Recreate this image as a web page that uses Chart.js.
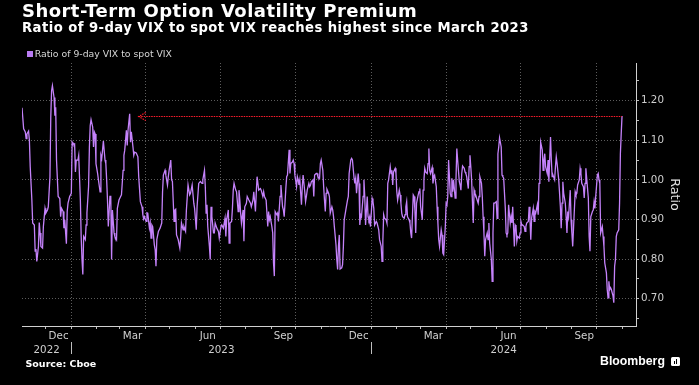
<!DOCTYPE html>
<html>
<head>
<meta charset="utf-8">
<script src="https://cdn.jsdelivr.net/npm/chart.js@4.4.1/dist/chart.umd.min.js"></script>
<style>
html,body{margin:0;padding:0;background:#000;}
#wrap{position:relative;width:699px;height:385px;background:#000;overflow:hidden;}
#c{position:absolute;left:0;top:0;}
.t{position:absolute;white-space:nowrap;color:#fff;}
#title{left:22px;top:2px;font:bold 18px/18px "DejaVu Sans";letter-spacing:0.45px;}
#sub{left:22px;top:21px;font:bold 13.2px/13.2px "DejaVu Sans";letter-spacing:0.44px;}
#legsq{position:absolute;left:27.3px;top:51.3px;width:5.5px;height:5.5px;background:#b97cf2;}
#legtx{left:34.7px;top:49.1px;font:9.3px/9.3px "DejaVu Sans";color:#d6d6d6;}
#src{left:25.5px;top:358.7px;font:bold 9.5px/9.5px "DejaVu Sans";}
#bbg{left:600px;top:354.6px;font:bold 12.3px/12.3px "Liberation Sans";}
#icon{position:absolute;left:671px;top:357px;width:9px;height:9px;background:#fff;border-radius:1.5px;}
#icon b{position:absolute;bottom:2px;width:1.4px;background:#000;}
</style>
</head>
<body>
<div id="wrap">
  <canvas id="c" width="699" height="385"></canvas>
  <div class="t" id="title">Short-Term Option Volatility Premium</div>
  <div class="t" id="sub">Ratio of 9-day VIX to spot VIX reaches highest since March 2023</div>
  <div id="legsq"></div>
  <div class="t" id="legtx">Ratio of 9-day VIX to spot VIX</div>
  <div class="t" id="src">Source: Cboe</div>
  <div class="t" id="bbg">Bloomberg</div>
  <div id="icon"><b style="left:2.5px;height:3px"></b><b style="left:4.6px;height:5px"></b></div>
</div>
<script>
// ---- data (x = days since 2023-01-01) ----
const seriesName = 'Ratio of 9-day VIX to spot VIX';
const days = [
-60,-58,-56,-55,-54,-52,-51,-50,-48,-47,-45,-44,-43,-42,-40,-39,-38,-37,-35,-34,-32,-31,-29,-28,-26,-25,-24,-23,-21,-20,-19,-18,-16,-14,-13,-12,-10,-9,-8,-6,-5,-4,-2,0,
1,2,4,5,6,8,9,11,12,13,14,15,17,18,19,21,22,23,24,26,27,28,29,30,32,33,35,36,37,38,39,41,42,43,44,45,47,48,49,50,52,53,55,56,58,60,61,63,64,65,67,68,69,71,72,73,75,76,77,79,81,82,84,86,87,88,89,91,92,93,95,96,97,98,99,101,102,103,104,106,107,108,110,111,112,114,115,117,118,119,121,
122,123,125,126,127,128,130,132,133,134,136,137,139,140,142,144,145,147,149,150,152,153,155,157,159,160,162,163,164,165,166,168,169,170,171,173,174,175,177,179,180,182,183,185,187,188,189,191,192,193,195,196,197,198,200,201,203,204,205,206,207,209,210,211,213,214,216,218,219,221,222,224,225,226,228,230,231,233,234,235,237,239,240,241,242,244,245,246,247,248,250,251,252,254,255,257,258,259,261,262,263,265,266,267,269,270,271,272,274,275,276,277,278,280,281,282,284,285,286,287,289,290,291,292,294,295,296,298,299,300,302,303,304,306,307,308,309,
310,311,313,314,315,317,318,319,320,322,323,324,325,326,327,329,330,331,332,334,336,337,338,340,341,342,344,345,346,347,349,350,351,352,353,355,356,357,358,360,361,362,363,364,366,367,368,369,371,372,373,374,375,377,378,379,380,381,383,384,385,386,388,389,390,391,392,394,395,396,397,399,400,401,402,403,405,406,407,408,409,411,412,413,414,416,417,418,419,420,422,423,424,425,427,428,429,430,431,433,434,435,436,437,439,440,441,442,444,445,446,447,448,450,451,452,453,455,456,457,458,459,461,462,463,464,465,467,468,469,470,472,473,474,475,476,478,479,480,481,483,484,485,486,487,489,490,491,492,493,495,496,497,
499,500,501,502,503,504,506,507,508,509,511,512,513,514,515,517,518,519,520,521,523,524,525,526,528,529,530,531,532,534,535,536,537,539,540,541,542,543,545,546,547,548,549,551,552,553,554,556,557,558,559,560,562,563,564,565,567,568,569,570,571,573,574,575,576,577,579,580,581,583,584,585,586,588,589,590,591,593,594,595,596,597,598,599,601,602,603,604,605,607,608,609,610,612,613,614,615,616,618,619,620,621,623,624,625,626,627,629,630,631,632,634,635,636,637,638,640,641,642,643,644,646,647,648,649,651,652,653,654,655,656,657,659,660,661,662,663,664,666,667,668,669,670
];
const ratio = [
1.182,1.129,1.121,1.104,1.116,1.123,1.100,1.033,0.949,0.891,0.886,0.820,0.825,0.794,0.832,0.892,0.866,0.832,0.828,0.882,0.928,0.916,0.924,0.932,1.008,1.158,1.225,1.238,1.208,1.162,1.183,1.050,0.958,0.953,0.907,0.928,0.920,0.878,0.899,0.839,0.920,0.941,0.958,0.966,
1.095,1.090,1.091,1.020,1.050,1.050,1.062,0.949,0.857,0.799,0.761,0.857,0.849,0.886,0.916,0.983,1.083,1.137,1.152,1.133,1.083,1.121,1.116,1.041,1.016,1.000,0.970,1.062,1.054,1.075,1.098,1.050,1.041,1.000,0.949,0.882,0.958,0.958,0.799,0.924,0.866,0.857,0.849,0.928,0.949,0.958,0.962,1.024,1.062,1.075,1.125,1.087,1.125,1.167,1.095,1.121,1.083,1.062,1.070,1.068,1.058,1.008,0.945,0.932,0.912,0.901,0.907,0.895,0.917,0.916,0.878,0.891,0.853,0.886,0.882,0.836,0.824,0.782,0.849,0.870,0.874,0.878,0.891,0.970,1.012,1.024,1.012,0.987,1.008,1.024,1.050,
1.000,0.996,0.895,0.924,0.926,0.861,0.849,0.828,0.853,0.891,0.874,0.882,0.870,0.924,0.987,0.962,0.966,0.987,0.941,0.928,0.874,0.932,0.991,0.996,0.991,1.000,1.024,0.983,0.916,0.937,0.882,0.832,0.799,0.932,0.907,0.866,0.866,0.891,0.878,0.870,0.853,0.882,0.886,0.878,0.903,0.857,0.899,0.924,0.840,0.891,0.895,0.928,0.974,0.991,0.974,0.970,0.920,0.974,0.949,0.916,0.891,0.924,0.845,0.932,0.941,0.958,0.949,0.941,0.932,0.949,0.970,0.920,0.966,1.008,0.974,0.978,0.974,0.958,0.970,0.958,0.949,0.882,0.920,0.899,0.907,0.882,0.866,0.790,0.757,0.920,0.912,0.916,0.895,0.958,0.987,0.932,0.924,0.907,0.978,1.008,1.012,1.076,1.016,1.041,1.045,1.050,1.041,1.012,0.983,1.008,1.000,0.987,1.000,0.937,0.983,1.012,0.970,0.945,0.958,0.974,0.991,0.983,0.987,0.995,1.000,0.958,1.012,1.016,1.016,1.008,1.004,1.041,1.050,1.024,0.983,0.949,0.920,
0.966,0.976,0.966,0.958,0.916,0.932,0.924,0.907,0.882,0.836,0.799,0.774,0.832,0.861,0.775,0.778,0.786,0.832,0.899,0.924,0.949,0.958,1.016,1.050,1.054,1.050,1.004,0.991,1.004,0.966,1.016,0.991,0.886,0.912,0.907,0.958,1.000,0.958,0.886,0.958,0.907,0.899,0.907,0.882,0.953,0.945,0.928,0.886,0.895,0.891,0.891,0.874,0.849,0.832,0.794,0.845,0.912,0.903,0.899,0.891,0.991,1.000,1.033,1.016,1.024,0.987,1.020,1.029,1.016,0.970,0.949,0.974,0.962,0.941,0.916,0.907,0.903,0.912,0.932,0.945,0.907,0.899,0.891,0.866,0.853,0.962,0.958,0.924,0.866,0.941,0.962,0.970,0.978,0.932,0.899,0.974,1.000,1.029,1.020,1.016,1.041,1.079,1.024,1.016,1.031,0.991,1.008,1.012,0.983,0.932,0.891,0.849,0.832,0.874,0.861,0.815,0.811,0.882,0.941,0.937,0.958,1.050,0.966,0.958,1.004,0.970,1.000,0.954,1.000,1.079,1.050,0.996,0.987,0.974,1.016,1.035,1.029,1.020,1.016,1.008,0.978,1.033,1.062,1.033,1.000,0.891,0.974,0.966,0.962,0.954,0.941,0.958,1.008,
0.991,0.958,0.907,0.866,0.807,0.849,0.866,0.849,0.891,0.840,0.799,0.744,0.866,0.941,0.941,0.945,0.903,1.066,1.083,1.106,1.083,1.012,1.008,1.004,0.928,0.866,0.861,0.866,0.937,0.891,0.907,0.891,0.932,0.832,0.886,0.882,0.845,0.857,0.853,0.866,0.895,0.886,0.886,0.882,0.870,0.882,0.891,0.895,0.932,0.899,0.849,0.903,0.928,0.895,0.920,0.916,0.937,0.912,0.991,0.996,1.095,1.075,1.024,1.050,1.066,1.033,1.016,1.050,0.995,1.108,1.050,1.008,1.012,1.000,1.033,1.058,1.041,1.000,0.966,0.932,0.878,0.941,0.995,0.966,0.941,0.907,0.866,0.920,0.907,0.974,0.899,0.866,0.832,0.924,0.970,0.962,0.966,0.987,1.000,1.029,1.016,0.991,0.983,0.954,0.991,1.029,1.004,0.954,0.857,0.820,0.907,0.920,0.924,0.945,0.928,0.958,1.012,1.016,1.000,0.991,0.866,0.882,0.857,0.832,0.790,0.765,0.723,0.702,0.744,0.723,0.728,0.723,0.707,0.690,0.782,0.799,0.857,0.866,0.874,0.941,1.066,1.116,1.161
];

// axis range, ticks and labels
const axisStart = '2022-11-02';
const axisEnd = '2024-11-18';
const monthStarts = ['2022-12-01','2023-01-01','2023-02-01','2023-03-01','2023-04-01','2023-05-01','2023-06-01','2023-07-01','2023-08-01','2023-09-01','2023-10-01','2023-11-01','2023-12-01','2024-01-01','2024-02-01','2024-03-01','2024-04-01','2024-05-01','2024-06-01','2024-07-01','2024-08-01','2024-09-01','2024-10-01','2024-11-01'];
const gridMonths = ['01','04','07','10'];
const monthLabelStarts = ['2022-12-01','2023-03-01','2023-06-01','2023-09-01','2023-12-01','2024-03-01','2024-06-01','2024-09-01'];
const monthLabels = ['Dec','Mar','Jun','Sep','Dec','Mar','Jun','Sep'];
const yearLabels = ['2022','2023','2024'];
const yMin = 0.631, yMax = 1.295;
const yTickValues = [0.65,0.70,0.75,0.80,0.85,0.90,0.95,1.00,1.05,1.10,1.15,1.20,1.25];
const yLabelValues = [0.70,0.80,0.90,1.00,1.10,1.20];
const yTitle = 'Ratio';
const refFromDate = '2023-03-24';
// ------------------------------------------

const DAY0 = Date.UTC(2023,0,1);
const toDay = s => Math.round((Date.parse(s + 'T00:00:00Z') - DAY0) / 86400000);
const xMin = toDay(axisStart), xMax = toDay(axisEnd);
const nextMonth = s => { const [y,m] = s.split('-').map(Number); return m === 12 ? `${y+1}-01-01` : `${y}-${String(m+1).padStart(2,'0')}-01`; };

const xTicks = [];
monthStarts.forEach(s => xTicks.push({value: toDay(s), kind: 'start', quarter: gridMonths.includes(s.slice(5,7)), text: ''}));
monthLabelStarts.forEach((s,i) => xTicks.push({value: (toDay(s) + toDay(nextMonth(s))) / 2, kind: 'label', text: monthLabels[i]}));
xTicks.sort((a,b) => a.value - b.value);

const yearTicks = [];
yearLabels.forEach((y,i) => {
  const a = Math.max(xMin, toDay(`${y}-01-01`));
  const b = Math.min(xMax, toDay(`${Number(y)+1}-01-01`));
  yearTicks.push({value: (a+b)/2, sep: false, text: y});
  if (i > 0) yearTicks.push({value: toDay(`${y}-01-01`), sep: true, text: ''});
});
yearTicks.sort((a,b) => a.value - b.value);

const isLabelY = v => yLabelValues.some(l => Math.abs(l - v) < 1e-6);
const refLevel = ratio[ratio.length - 1];
const refFrom = toDay(refFromDate);
const refTo = days[days.length - 1];

const axisFont = {family: 'DejaVu Sans', size: 10.3};
const labelColor = '#cfcfcf';
const gridColor = '#5c5c5c';
const axisColor = '#d0d0d0';

const refPlugin = {
  id: 'refLine',
  afterDatasetsDraw(chart) {
    const {ctx, scales: {x, y}} = chart;
    const yy = Math.round(y.getPixelForValue(refLevel)) + 0.5;
    const x0 = x.getPixelForValue(refFrom), x1 = x.getPixelForValue(refTo);
    ctx.save();
    ctx.strokeStyle = '#ff1e2d';
    ctx.lineWidth = 1.2;
    ctx.setLineDash([1.5,1]);
    ctx.beginPath(); ctx.moveTo(x0, yy); ctx.lineTo(x1, yy); ctx.stroke();
    ctx.beginPath(); ctx.moveTo(x0 + 7, yy - 4); ctx.lineTo(x0, yy); ctx.lineTo(x0 + 7, yy + 4); ctx.stroke();
    ctx.restore();
  }
};

new Chart(document.getElementById('c'), {
  type: 'line',
  data: {
    datasets: [{
      label: seriesName,
      data: days.map((d,i) => ({x: d, y: ratio[i]})),
      xAxisID: 'x', yAxisID: 'y',
      borderColor: '#c482fa',
      borderWidth: 1.3,
      pointRadius: 0,
      tension: 0,
      fill: false
    }]
  },
  options: {
    responsive: false,
    animation: false,
    devicePixelRatio: 1,
    layout: {padding: {left: 22, top: 63, right: 0, bottom: 0}},
    plugins: {legend: {display: false}, tooltip: {enabled: false}},
    scales: {
      x: {
        type: 'linear', position: 'bottom', min: xMin, max: xMax,
        afterBuildTicks: s => { s.ticks = xTicks.map(t => ({...t})); },
        afterFit: s => { s.height = 16; },
        ticks: {autoSkip: false, maxRotation: 0, minRotation: 0, padding: 1, color: labelColor, font: axisFont,
                callback: (v, i, ts) => (ts[i] && ts[i].text) || ''},
        grid: {color: c => (c.tick && c.tick.quarter) ? gridColor : 'transparent', lineWidth: 1, tickLength: 3,
               tickColor: c => (c.tick && c.tick.kind === 'start') ? '#bdbdbd' : 'transparent'},
        border: {display: true, color: axisColor, width: 1, dash: [1,2]}
      },
      x3: {
        type: 'linear', position: 'bottom', min: xMin, max: xMax,
        afterBuildTicks: s => { s.ticks = yearTicks.map(t => ({...t})); },
        afterFit: s => { s.height = 43; },
        ticks: {autoSkip: false, maxRotation: 0, minRotation: 0, padding: -10, color: labelColor, font: axisFont,
                callback: (v, i, ts) => (ts[i] && ts[i].text) || ''},
        grid: {drawOnChartArea: false, color: 'transparent', tickLength: 12,
               tickColor: c => (c.tick && c.tick.sep) ? '#bdbdbd' : 'transparent'},
        border: {display: false}
      },
      y: {
        type: 'linear', position: 'right', min: yMin, max: yMax,
        afterBuildTicks: s => { s.ticks = yTickValues.map(v => ({value: v})); },
        afterFit: s => { s.width = 63; },
        ticks: {padding: 2, color: labelColor, font: axisFont, callback: v => isLabelY(v) ? v.toFixed(2) : ''},
        grid: {color: c => (c.tick && isLabelY(c.tick.value)) ? gridColor : 'transparent', tickLength: 3, tickColor: '#bdbdbd'},
        border: {color: axisColor, width: 1, dash: [1,2]},
        title: {display: true, text: yTitle, color: '#e0e0e0', font: {family: 'DejaVu Sans', size: 12.7}, padding: {top: 17, bottom: 0}}
      }
    }
  },
  plugins: [refPlugin]
});
</script>
</body>
</html>
